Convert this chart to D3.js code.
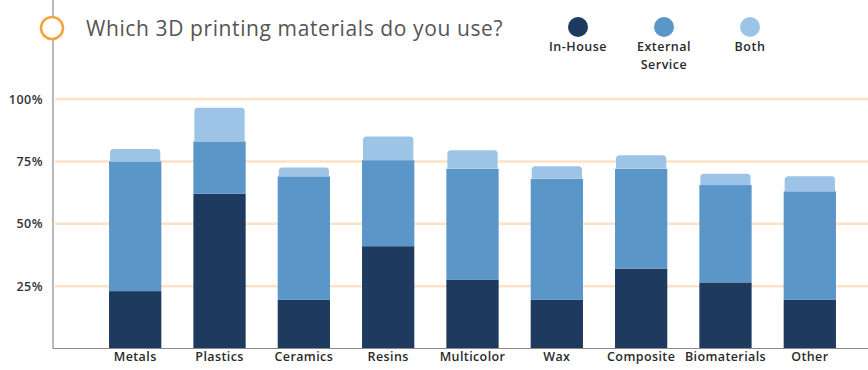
<!DOCTYPE html>
<html>
<head>
<meta charset="utf-8">
<script src="https://cdn.jsdelivr.net/npm/d3@7"></script>
<style>
  html, body { margin: 0; padding: 0; background: #fff; }
  svg { display: block; }
  text { font-family: "Open Sans", "Noto Sans", sans-serif; }
</style>
</head>
<body>
<svg id="chart" width="868" height="370"></svg>
<script>
// Survey: share of respondents using each 3D printing material, split by sourcing
const materials = ["Metals", "Plastics", "Ceramics", "Resins", "Multicolor", "Wax", "Composite", "Biomaterials", "Other"];
const inHouse   = [23, 62, 19.5, 41, 27.5, 19.5, 32, 26.5, 19.5];
const external  = [52, 21, 49.5, 34.5, 44.5, 48.5, 40, 39, 43.5];
const both      = [5, 13.5, 3.5, 9.5, 7.5, 5, 5.5, 4.5, 6];
const yTicks    = [0.25, 0.5, 0.75, 1.0];
const seriesNames  = ["In-House", "External Service", "Both"];
const seriesColors = ["#1f3a5f", "#5b96c9", "#9dc4e6"];

const svg = d3.select("#chart");
const W = 868, H = 370;
const axisX = 53, baseY = 348.5, topY = 99;

const x = d3.scaleBand().domain(materials).range([77, 868]).paddingInner(0.38).paddingOuter(0.38);
const y = d3.scaleLinear().domain([0, 1]).range([baseY, topY]);

// horizontal reference lines
svg.append("g").selectAll("line").data(yTicks).join("line")
  .attr("x1", axisX + 2).attr("x2", W)
  .attr("y1", d => y(d)).attr("y2", d => y(d))
  .attr("stroke", "#fde2c6").attr("stroke-width", 2.5);

// stacked data
const rows = materials.map((m, i) => ({ material: m, inHouse: inHouse[i] / 100, external: external[i] / 100, both: both[i] / 100 }));
const stack = d3.stack().keys(["inHouse", "external", "both"]);
const layers = stack(rows);

function roundedTop(x0, w, yTop, yBot, r) {
  return `M${x0},${yBot}V${yTop + r}Q${x0},${yTop} ${x0 + r},${yTop}H${x0 + w - r}Q${x0 + w},${yTop} ${x0 + w},${yTop + r}V${yBot}Z`;
}

layers.forEach((layer, li) => {
  const g = svg.append("g").attr("fill", seriesColors[li]);
  if (li < 2) {
    g.selectAll("rect").data(layer).join("rect")
      .attr("x", d => x(d.data.material))
      .attr("width", x.bandwidth())
      .attr("y", d => y(d[1]))
      .attr("height", d => y(d[0]) - y(d[1]));
  } else {
    g.selectAll("path").data(layer).join("path")
      .attr("d", d => roundedTop(x(d.data.material) + 1, x.bandwidth() - 2, y(d[1]), y(d[0]), 3.5));
  }
});

// axes lines
svg.append("line").attr("x1", axisX).attr("x2", axisX).attr("y1", 0).attr("y2", baseY)
  .attr("stroke", "#8a8a8a").attr("stroke-width", 1.2);
svg.append("line").attr("x1", axisX).attr("x2", W).attr("y1", baseY).attr("y2", baseY)
  .attr("stroke", "#8a8a8a").attr("stroke-width", 1.2);

// y tick labels
const yAxis = d3.axisLeft(y).tickValues(yTicks).tickFormat(d3.format(".0%")).tickSize(0).tickPadding(0);
const yg = svg.append("g").attr("transform", `translate(43,0)`).call(yAxis);
yg.select(".domain").remove();
yg.selectAll("text").attr("font-size", 12.5).attr("font-weight", 600).attr("fill", "#333")
  .attr("font-family", "'Open Sans', sans-serif").attr("letter-spacing", 0.5);

// x tick labels
const xAxis = d3.axisBottom(x).tickSize(0).tickPadding(4);
const xg = svg.append("g").attr("transform", `translate(0,${baseY})`).call(xAxis);
xg.select(".domain").remove();
xg.selectAll("text").attr("font-size", 12.5).attr("font-weight", 600).attr("fill", "#2a2a2a")
  .attr("font-family", "'Open Sans', sans-serif").attr("letter-spacing", 0.4);

// title marker and text
svg.append("circle").attr("cx", 52).attr("cy", 28).attr("r", 11)
  .attr("fill", "#fff").attr("stroke", "#f6a443").attr("stroke-width", 2.6);
svg.append("text").attr("x", 86).attr("y", 36)
  .attr("font-size", 21).attr("fill", "#555").attr("letter-spacing", 0.6)
  .text("Which 3D printing materials do you use?");

// legend
const legendX = [578, 664, 750];
const lg = svg.append("g");
seriesNames.forEach((name, i) => {
  lg.append("circle").attr("cx", legendX[i]).attr("cy", 27).attr("r", 10).attr("fill", seriesColors[i]);
  const words = name === "External Service" ? ["External", "Service"] : [name];
  words.forEach((w, j) => {
    lg.append("text").attr("x", legendX[i]).attr("y", 51 + j * 18)
      .attr("text-anchor", "middle").attr("font-size", 12.5).attr("font-weight", 600)
      .attr("fill", "#2a2a2a").attr("letter-spacing", 0.5).text(w);
  });
});
</script>
</body>
</html>
